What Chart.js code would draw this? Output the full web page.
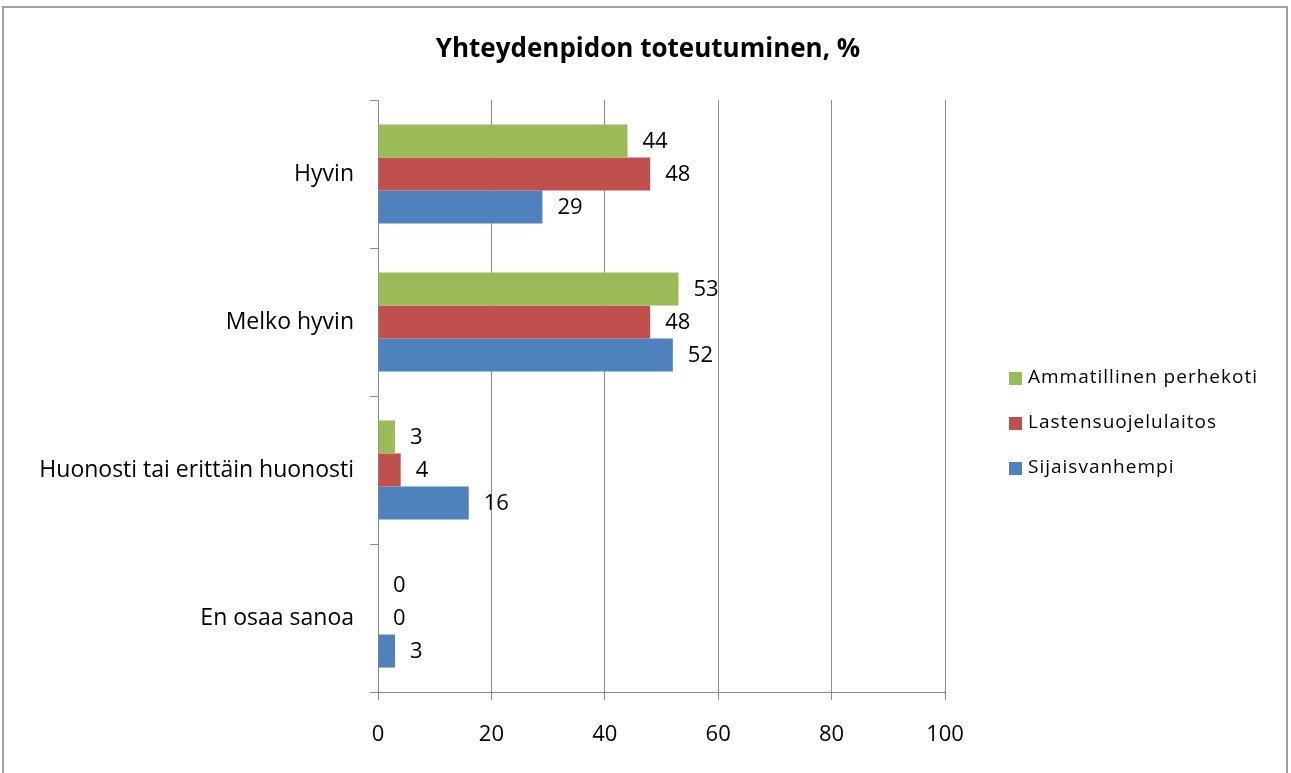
<!DOCTYPE html>
<html lang="fi">
<head>
<meta charset="utf-8">
<title>Yhteydenpidon toteutuminen, %</title>
<script src="https://cdn.jsdelivr.net/npm/chart.js@4"></script>
<style>
  html, body { margin: 0; padding: 0; background: #fff; }
  #wrap { position: relative; width: 1291px; height: 773px; overflow: hidden; }
  #frame { position: absolute; left: 2px; top: 6px; width: 1286px; height: 790px; border: 2px solid #a0a0a0; box-sizing: border-box; pointer-events: none; }
</style>
</head>
<body>
<div id="wrap">
  <canvas id="chart" width="1291" height="773"></canvas>
  <div id="frame"></div>
</div>
<script>
// data
const categories = ['Hyvin', 'Melko hyvin', 'Huonosti tai erittäin huonosti', 'En osaa sanoa'];
const seriesNames = ['Ammatillinen perhekoti', 'Lastensuojelulaitos', 'Sijaisvanhempi'];
const perhekoti = [44, 53, 3, 0];
const laitos = [48, 48, 4, 0];
const sijaisvanhempi = [29, 52, 16, 3];
const xTicks = [0, 20, 40, 60, 80, 100];

const colors = ['#9BBB59', '#C0504D', '#4F81BD'];
const font = "'Open Sans', 'DejaVu Sans', sans-serif";

// title, data labels and the legend at the right
const extras = {
  id: 'extras',
  afterDatasetsDraw(chart) {
    const ctx = chart.ctx;
    ctx.save();
    ctx.fillStyle = '#000';
    ctx.font = '22px ' + font;
    ctx.textAlign = 'left';
    ctx.textBaseline = 'middle';
    chart.data.datasets.forEach((ds, i) => {
      chart.getDatasetMeta(i).data.forEach((bar, j) => {
        ctx.fillText(String(ds.data[j]), bar.x + 15, bar.y + 1);
      });
    });

    ctx.font = "bold 26px 'Open Sans', sans-serif";
    ctx.textAlign = 'center';
    ctx.fillText('Yhteydenpidon toteutuminen, %', 648, 50);

    ctx.font = '19px ' + font;
    ctx.letterSpacing = '1px';
    ctx.textAlign = 'left';
    chart.data.datasets.forEach((ds, i) => {
      const y = 378 + i * 45;
      ctx.fillStyle = ds.backgroundColor;
      ctx.fillRect(1009, y - 6, 13, 13);
      ctx.fillStyle = '#000';
      ctx.fillText(ds.label, 1028, y);
    });
    ctx.restore();
  }
};

new Chart(document.getElementById('chart'), {
  type: 'bar',
  data: {
    labels: categories,
    datasets: [
      { label: seriesNames[0], data: perhekoti, backgroundColor: colors[0] },
      { label: seriesNames[1], data: laitos, backgroundColor: colors[1] },
      { label: seriesNames[2], data: sijaisvanhempi, backgroundColor: colors[2] }
    ]
  },
  options: {
    indexAxis: 'y',
    responsive: false,
    animation: false,
    events: [],
    layout: { padding: { left: 0, right: 346, top: 100, bottom: 21 } },
    datasets: { bar: { categoryPercentage: 0.67, barPercentage: 1 } },
    plugins: { legend: { display: false }, title: { display: false }, tooltip: { enabled: false } },
    scales: {
      x: {
        min: 0, max: 100,
        afterBuildTicks: s => { s.ticks = xTicks.map(v => ({ value: v })); },
        afterFit: s => { s.height = 60; },
        grid: { color: '#8c8c8c', lineWidth: 1, tickLength: 8, drawOnChartArea: true },
        border: { color: '#8c8c8c', width: 1 },
        ticks: { color: '#000', padding: 22, font: { family: font, size: 22 } }
      },
      y: {
        afterFit: s => { s.width = 378; },
        grid: { offset: true, drawOnChartArea: false, tickLength: 8, color: '#8c8c8c' },
        border: { color: '#8c8c8c', width: 1 },
        ticks: { color: '#000', padding: 16, font: { family: font, size: 23 } }
      }
    }
  },
  plugins: [extras]
});
</script>
</body>
</html>
